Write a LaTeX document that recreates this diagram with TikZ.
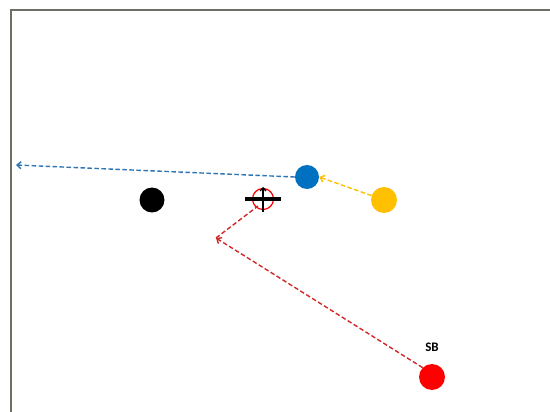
\documentclass[tikz,border=0pt]{standalone}
\usepackage{fontspec}
\setmainfont{Carlito}
\usetikzlibrary{arrows.meta}
\definecolor{pblue}{RGB}{0,112,192}
\definecolor{pyellow}{RGB}{255,192,0}
\definecolor{pred}{RGB}{255,0,0}
\definecolor{dred}{RGB}{210,40,40}
\definecolor{dblue}{RGB}{46,117,182}
\definecolor{frame}{RGB}{110,110,100}
\tikzset{
  dot/.style={circle, inner sep=0pt, minimum size=25pt},
  dasharrow/.style={line width=1.4pt, dash pattern=on 4.5pt off 2.5pt, -{Straight Barb[length=4pt,width=7pt]}},
  dashplain/.style={line width=1.4pt, dash pattern=on 4.5pt off 2.5pt},
}
\begin{document}
\begin{tikzpicture}[x=1pt,y=-1pt]
\useasboundingbox (0,0) rectangle (550,412);
\fill[white] (0,0) rectangle (550,412);
\draw[frame, line width=2pt] (11,413) -- (11,10) -- (551,10);
\node[dot, fill=black] (black) at (152,200) {};
\node[dot, fill=pblue, minimum size=24pt] (blue) at (307,177) {};
\node[dot, fill=pyellow, minimum size=26pt] (yellow) at (384,200) {};
\node[dot, fill=pred, minimum size=26pt] (sb) at (432,377) {};
\node[font=\bfseries\fontsize{13}{15}\selectfont, text=black] (sblabel) at (432,347) {SB};
% target
\node[circle, draw=pred, line width=1.2pt, minimum size=21pt, inner sep=0pt] (target) at (263,199) {};
\coordinate (barl) at (245,199);
\coordinate (barr) at (281,199);
\draw[line width=4pt] (barl) -- (barr);
\coordinate (vbot) at (263,212);
\coordinate (vtop) at (263,187);
\draw[line width=1.3pt, -{Straight Barb[length=3pt,width=6pt]}] (vbot) -- (vtop);
% connectors
\coordinate (left) at (16,165);
\draw[dasharrow, dblue] (blue.west) -- (left);
\draw[dasharrow, pyellow] (yellow) -- (blue.east);
\coordinate (corner) at (216,238);
\draw[dasharrow, dred] (sb.north west) -- (corner);
\coordinate (tend) at (258,206);
\draw[dashplain, dred] (corner) -- (tend);
\end{tikzpicture}
\end{document}
